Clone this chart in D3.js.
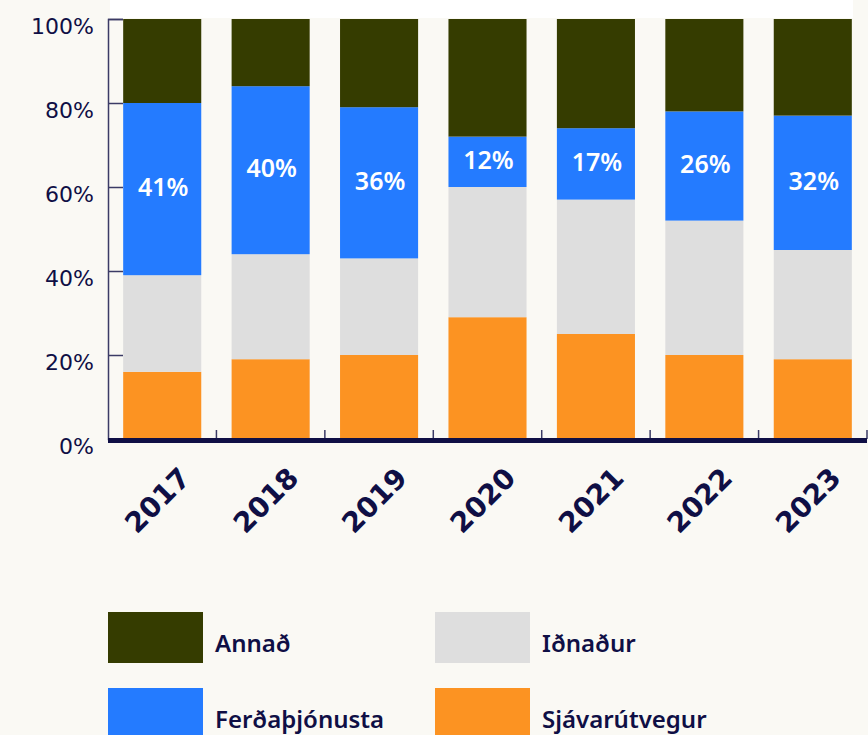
<!DOCTYPE html>
<html>
<head>
<meta charset="utf-8">
<script src="https://cdn.jsdelivr.net/npm/d3@7"></script>
<style>
  body { margin: 0; background: #faf9f4; }
  svg { display: block; }
</style>
</head>
<body>
<svg width="868" height="735"></svg>
<script>
// gögn
var ar = ["2017", "2018", "2019", "2020", "2021", "2022", "2023"]
var sjavarutvegur = [16, 19, 20, 29, 25, 20, 19]
var idnadur = [23, 25, 23, 31, 32, 32, 26]
var ferdathjonusta = [41, 40, 36, 12, 17, 26, 32]
var annad = [20, 16, 21, 28, 26, 22, 23]
var yTicks = [0, 20, 40, 60, 80, 100]

var flokkar = ["Sjávarútvegur", "Iðnaður", "Ferðaþjónusta", "Annað"]
var litir = ["#fc9322", "#dedede", "#247bff", "#353c00"]
var legendRod = ["Annað", "Iðnaður", "Ferðaþjónusta", "Sjávarútvegur"]

var dokkt = "#0f0f45"

var svg = d3.select("svg")
var margin = {top: 19, left: 108, right: 1, bottom: 296}
var width = 868 - margin.left - margin.right
var height = 735 - margin.top - margin.bottom

// tafla fyrir d3.stack
var rows = ar.map(function(a, i) {
  return {
    ar: a,
    "Sjávarútvegur": sjavarutvegur[i],
    "Iðnaður": idnadur[i],
    "Ferðaþjónusta": ferdathjonusta[i],
    "Annað": annad[i]
  }
})
var series = d3.stack().keys(flokkar)(rows)

var x = d3.scaleBand().domain(ar).range([0, width]).paddingInner(0.28).paddingOuter(0.14)
var y = d3.scaleLinear().domain([0, 100]).range([height, 0])
var color = d3.scaleOrdinal().domain(flokkar).range(litir)

// hvít rönd efst
svg.append("rect")
  .attr("x", 110).attr("y", 0)
  .attr("width", 743).attr("height", margin.top - 1)
  .attr("fill", "#ffffff")

var g = svg.append("g").attr("transform", "translate(" + margin.left + "," + margin.top + ")")

// súlur
g.append("g").selectAll("g")
  .data(series)
  .enter().append("g")
  .attr("fill", function(d) { return color(d.key) })
  .selectAll("rect")
  .data(function(d) { return d })
  .enter().append("rect")
  .attr("x", function(d) { return x(d.data.ar) })
  .attr("y", function(d) { return y(d[1]) })
  .attr("height", function(d) { return y(d[0]) - y(d[1]) })
  .attr("width", x.bandwidth())

// merki á ferðaþjónustu
var ferd = series[2]
g.append("g").selectAll("text")
  .data(ferd)
  .enter().append("text")
  .attr("x", function(d) { return x(d.data.ar) + x.bandwidth() / 2 + 1 })
  .attr("y", function(d) { return (y(d[0]) + y(d[1])) / 2 - 3 })
  .attr("text-anchor", "middle")
  .attr("dominant-baseline", "central")
  .attr("fill", "#ffffff")
  .attr("font-family", "'Noto Sans', sans-serif")
  .attr("font-weight", 600)
  .attr("font-size", 25)
  .text(function(d) { return (d[1] - d[0]) + "%" })

// y ás
var yAxis = g.append("g")
  .call(d3.axisLeft(y).tickValues(yTicks).tickSize(-15).tickPadding(28).tickFormat(function(d) { return d + "%" }))
yAxis.select(".domain").attr("stroke", "#3b3b66").attr("stroke-width", 1.5)
yAxis.selectAll(".tick line").attr("stroke", "#3b3b66").attr("stroke-width", 1.5)
yAxis.selectAll(".tick text")
  .attr("fill", dokkt)
  .attr("font-family", "'DejaVu Sans', sans-serif")
  .attr("font-size", 22)
  .attr("dx", 14)
  .attr("dy", "0.66em")

// x ás
var skil = ar.map(function(a) { return x(a) - x.step() * x.paddingInner() / 2 }).slice(1)
skil.push(width)
g.append("g").selectAll("line")
  .data(skil)
  .enter().append("line")
  .attr("x1", function(d) { return d }).attr("x2", function(d) { return d })
  .attr("y1", height - 9).attr("y2", height)
  .attr("stroke", "#3b3b66").attr("stroke-width", 1.5)

g.append("line")
  .attr("x1", 0).attr("x2", width)
  .attr("y1", height + 1.5).attr("y2", height + 1.5)
  .attr("stroke", dokkt).attr("stroke-width", 5)

g.append("g").selectAll("text")
  .data(ar)
  .enter().append("text")
  .attr("transform", function(d) {
    return "translate(" + (x(d) + x.bandwidth() / 2 + 23) + "," + (height + 34) + ") rotate(-45)"
  })
  .attr("text-anchor", "end")
  .attr("dominant-baseline", "central")
  .attr("fill", dokkt)
  .attr("font-family", "'DejaVu Sans', sans-serif")
  .attr("font-weight", "bold")
  .attr("font-size", 28)
  .text(function(d) { return d })

// skýringar
var leg = svg.append("g").attr("transform", "translate(108,612)")
var item = leg.selectAll("g")
  .data(legendRod)
  .enter().append("g")
  .attr("transform", function(d, i) {
    return "translate(" + (i % 2) * 327 + "," + Math.floor(i / 2) * 76 + ")"
  })
item.append("rect")
  .attr("width", 95).attr("height", 51)
  .attr("fill", function(d) { return color(d) })
item.append("text")
  .attr("x", 107).attr("y", 40)
  .attr("fill", dokkt)
  .attr("font-family", "'Noto Sans', sans-serif")
  .attr("font-weight", 600)
  .attr("font-size", 24)
  .text(function(d) { return d })
</script>
</body>
</html>
